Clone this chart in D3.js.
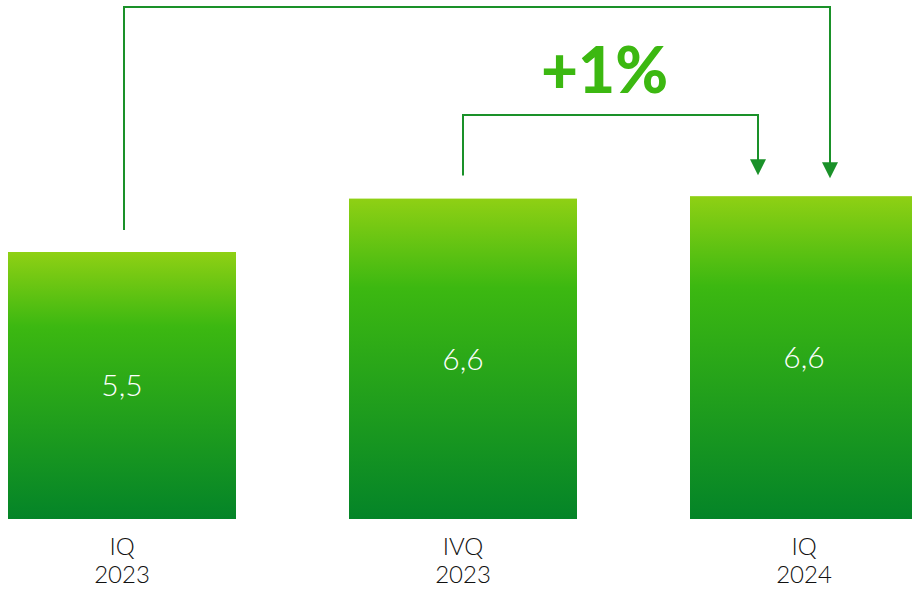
<!DOCTYPE html>
<html><head><meta charset="utf-8">
<script src="https://cdn.jsdelivr.net/npm/d3@7"></script>
<style>html,body{margin:0;padding:0;background:#fff;overflow:hidden}</style>
</head><body><svg id="c" width="912" height="589"></svg>
<script>
const categories = ["IQ\n2023", "IVQ\n2023", "IQ\n2024"];
const values = [5.5, 6.6, 6.65];
const valueLabels = ["5,5", "6,6", "6,6"];
const changeLabel = "+1%";

const svg = d3.select("#c");
const x = d3.scaleBand().domain(categories).range([8, 918]).paddingInner(113/341).paddingOuter(0);
const y = d3.scaleLinear().domain([0, 5.5]).range([519, 252]);

const defs = svg.append("defs");
const g = defs.append("linearGradient").attr("id","barGrad").attr("x1",0).attr("y1",0).attr("x2",0).attr("y2",1);
g.append("stop").attr("offset","0%").attr("stop-color","#8fd014");
g.append("stop").attr("offset","28%").attr("stop-color","#3cb811");
g.append("stop").attr("offset","100%").attr("stop-color","#048428");

svg.selectAll("rect.bar").data(values).join("rect")
  .attr("class","bar")
  .attr("x",(d,i)=>x(categories[i]))
  .attr("y",d=>y(d))
  .attr("width",x.bandwidth())
  .attr("height",d=>y(0)-y(d))
  .attr("fill","url(#barGrad)");

svg.selectAll("text.val").data(values).join("text")
  .attr("class","val")
  .attr("x",(d,i)=>x(categories[i])+x.bandwidth()/2)
  .attr("y",d=>(y(d)+y(0))/2)
  .attr("dy","0.36em")
  .attr("text-anchor","middle")
  .attr("fill","#fff")
  .attr("font-family","Lato, 'Open Sans', sans-serif")
  .attr("font-weight",300)
  .attr("font-size",30)
  .text((d,i)=>valueLabels[i]);

const cat = svg.selectAll("text.cat").data(categories).join("text")
  .attr("class","cat")
  .attr("text-anchor","middle")
  .attr("fill","#111")
  .attr("font-family","Lato, 'Open Sans', sans-serif")
  .attr("font-weight",300)
  .attr("font-size",24);
cat.each(function(d){
  const t = d3.select(this);
  const cx = x(d)+x.bandwidth()/2;
  d.split("\n").forEach((line,k)=>{
    t.append("tspan").attr("x",cx).attr("y",555+k*28).text(line);
  });
});

const arrowColor = "#1a9129";
const cx = i => x(categories[i]) + x.bandwidth()/2;
function arrow(x0, yStart, yTop, x1, yTip){
  svg.append("path")
    .attr("d",`M${x0},${yStart}V${yTop}H${x1}V${yTip-15}`)
    .attr("fill","none").attr("stroke",arrowColor).attr("stroke-width",2);
  svg.append("path")
    .attr("d",`M${x1-8},${yTip-16}L${x1+8},${yTip-16}L${x1},${yTip}Z`)
    .attr("fill",arrowColor);
}
arrow(cx(0)+2, y(values[0])-22, 7, cx(2)+26, y(values[2])-18);
arrow(cx(1), y(values[1])-23, 115, cx(2)-46, y(values[2])-21);

svg.append("text")
  .attr("x",(cx(1)+cx(2)-46)/2 - 6)
  .attr("y",93)
  .attr("text-anchor","middle")
  .attr("fill","#3cb811")
  .attr("font-family","Lato, 'Open Sans', sans-serif")
  .attr("font-weight",900)
  .attr("font-size",64)
  .text(changeLabel);
</script></body></html>
